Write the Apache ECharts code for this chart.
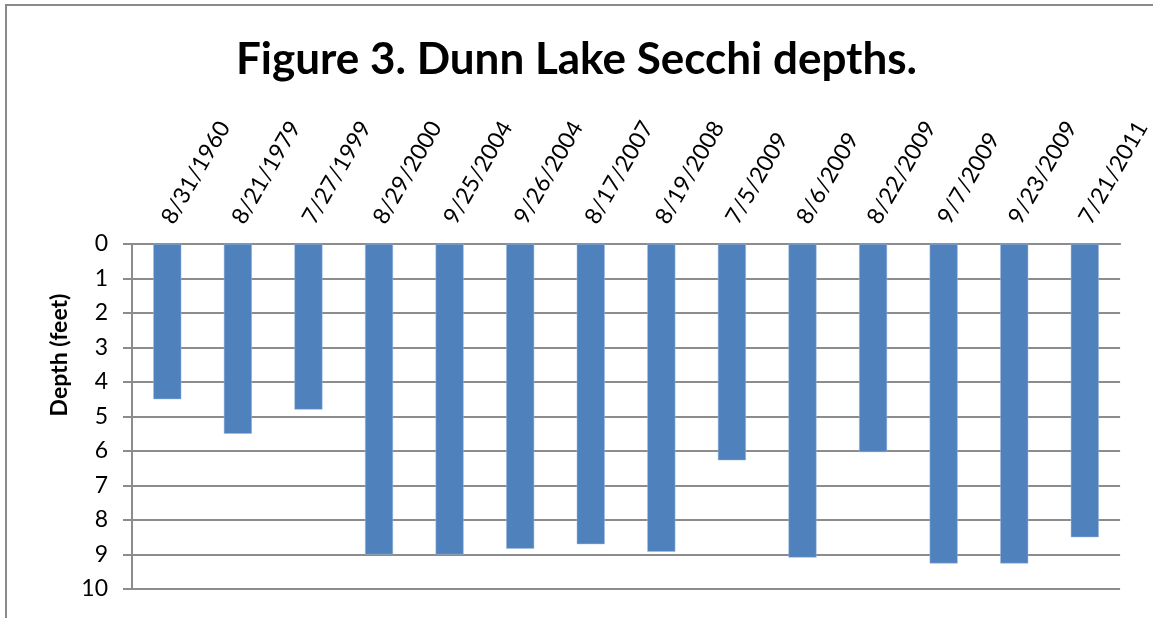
<!DOCTYPE html>
<html>
<head>
<meta charset="utf-8">
<script src="https://cdn.jsdelivr.net/npm/echarts@6/dist/echarts.min.js"></script>
<style>
  html, body { margin: 0; padding: 0; background: #fff; }
  #main { width: 1153px; height: 618px; }
</style>
</head>
<body>
<div id="main"></div>
<script>
// sampling dates and Secchi depths (feet)
var dates = ['8/31/1960', '8/21/1979', '7/27/1999', '8/29/2000', '9/25/2004', '9/26/2004', '8/17/2007',
  '8/19/2008', '7/5/2009', '8/6/2009', '8/22/2009', '9/7/2009', '9/23/2009', '7/21/2011'];
var depths = [4.5, 5.5, 4.8, 9.0, 9.0, 8.83, 8.7, 8.92, 6.27, 9.09, 6.03, 9.26, 9.26, 8.5];
var depthTicks = [0, 10, 1]; // min, max, step

var chart = echarts.init(document.getElementById('main'), null, { renderer: 'canvas' });
var gray = '#8c8c8c';
var font = 'Lato, "Open Sans", sans-serif';

var option = {
  backgroundColor: '#fff',
  animation: false,
  title: {
    text: 'Figure 3. Dunn Lake Secchi depths.',
    left: 'center',
    top: 33,
    textStyle: { fontFamily: font, fontWeight: 'bold', fontSize: 44, color: '#000' }
  },
  graphic: [{
    type: 'polyline',
    shape: { points: [[6, 640], [6, 5], [1160, 5]] },
    style: { stroke: '#8a8a8a', lineWidth: 2, fill: null }
  }, {
    // y axis title
    type: 'text',
    x: 60,
    y: 355,
    rotation: Math.PI / 2,
    style: {
      text: 'Depth (feet)',
      font: 'bold 23px ' + font,
      fill: '#000',
      align: 'center',
      verticalAlign: 'middle'
    }
  }],
  grid: { left: 132, right: 23, top: 244, bottom: 29 },
  xAxis: {
    type: 'category',
    position: 'top',
    data: dates,
    axisLine: { lineStyle: { color: gray, width: 2 } },
    axisTick: { show: false },
    axisLabel: { rotate: 60, fontSize: 23, margin: 22, color: '#000', fontFamily: font, interval: 0 }
  },
  yAxis: {
    type: 'value',
    inverse: true,
    min: depthTicks[0],
    max: depthTicks[1],
    interval: depthTicks[2],
    axisLine: { show: true, lineStyle: { color: gray, width: 2 } },
    axisTick: { show: true, length: 9, lineStyle: { color: gray, width: 2 } },
    axisLabel: { fontSize: 23, margin: 24, color: '#000', fontFamily: font },
    splitLine: { lineStyle: { color: gray, width: 2 } }
  },
  series: [{
    type: 'bar',
    data: depths,
    barWidth: 28,
    itemStyle: { color: '#4f81bd', borderColor: '#9dbbe0', borderWidth: 0.5 }
  }]
};
chart.setOption(option);
</script>
</body>
</html>
